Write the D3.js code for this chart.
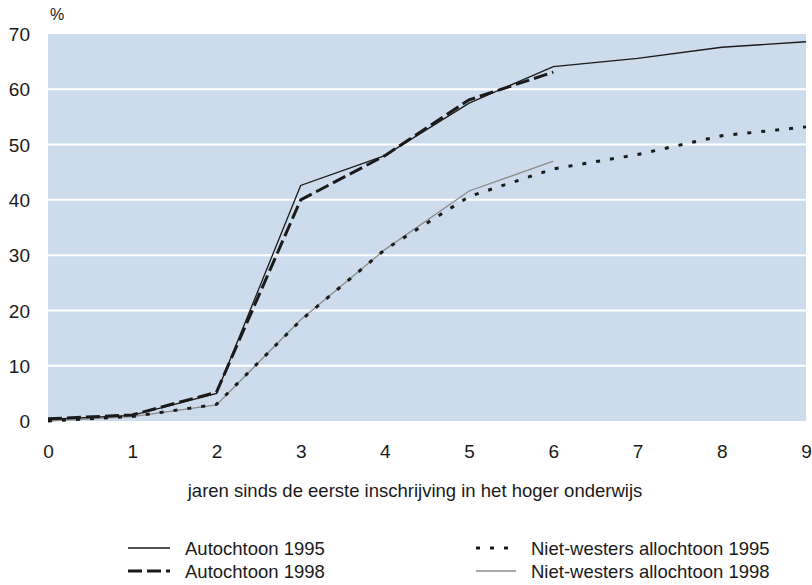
<!DOCTYPE html>
<html>
<head>
<meta charset="utf-8">
<script src="https://cdn.jsdelivr.net/npm/d3@7"></script>
<style>
  body { margin: 0; background: #fff; }
  text { font-family: "Liberation Sans", Arial, sans-serif; fill: #1a1a1a; }
  .tick text { font-family: "Liberation Sans Narrow", "Liberation Sans", sans-serif; }
</style>
</head>
<body>
<div id="main"></div>
<script>
// jaren sinds de eerste inschrijving
const years = [0, 1, 2, 3, 4, 5, 6, 7, 8, 9];
const yTicks = [0, 10, 20, 30, 40, 50, 60, 70];

const autochtoon1995 = [0.3, 1.0, 5.0, 42.6, 48.0, 57.5, 64.1, 65.6, 67.6, 68.6];
const autochtoon1998 = [0.4, 1.1, 5.2, 40.0, 48.0, 58.1, 63.1];
const nietWesters1995 = [0.0, 0.8, 3.0, 18.2, 31.0, 40.6, 45.6, 48.2, 51.6, 53.2];
const nietWesters1998 = [0.0, 0.8, 2.9, 18.3, 31.0, 41.6, 47.0];

const seriesNames = ["Autochtoon 1995", "Autochtoon 1998", "Niet-westers allochtoon 1995", "Niet-westers allochtoon 1998"];

const ctx = { w: 812, h: 585 };
const margin = { top: 34, right: 6, bottom: 164, left: 48 };
const width = ctx.w - margin.left - margin.right,
      height = ctx.h - margin.top - margin.bottom;

// lijnstijlen per reeks
const styles = [
  { stroke: "#1a1a1a", width: 1.3, dash: null },
  { stroke: "#1a1a1a", width: 3, dash: "14,5" },
  { stroke: "#1a1a1a", width: 3, dash: "4,10" },
  { stroke: "#8c8c8c", width: 1.3, dash: null }
];

const series = [autochtoon1995, autochtoon1998, nietWesters1995, nietWesters1998];

const svgEl = d3.select("#main").append("svg")
  .attr("width", ctx.w)
  .attr("height", ctx.h);

const x = d3.scaleLinear().domain([0, 9]).range([0, width]);
const y = d3.scaleLinear().domain([0, 70]).range([height, 0]);

const g = svgEl.append("g").attr("transform", `translate(${margin.left},${margin.top})`);

g.append("rect")
  .attr("width", width)
  .attr("height", height)
  .attr("fill", "#ccdcec");

g.selectAll(".grid")
  .data(yTicks.filter(d => d > 0 && d < 70))
  .enter().append("line")
  .attr("class", "grid")
  .attr("x1", 0).attr("x2", width)
  .attr("y1", d => y(d)).attr("y2", d => y(d))
  .attr("stroke", "#fff")
  .attr("stroke-width", 2);

// assen zonder lijnen
const yAxis = g.append("g")
  .call(d3.axisLeft(y).tickValues(yTicks).tickSize(0).tickPadding(18));
yAxis.select(".domain").remove();
yAxis.selectAll("text").style("font-size", "19px").attr("fill", "#1a1a1a").attr("dy", "0.35em");

const xAxis = g.append("g")
  .attr("transform", `translate(0,${height})`)
  .call(d3.axisBottom(x).tickValues(years).tickSize(0).tickPadding(24));
xAxis.select(".domain").remove();
xAxis.selectAll("text").style("font-size", "19px").attr("fill", "#1a1a1a");

const line = d3.line()
  .x((d, i) => x(years[i]))
  .y(d => y(d));

// volgorde van tekenen: grijze lijn onder de stippellijn
[3, 2, 0, 1].forEach(i => {
  g.append("path")
    .datum(series[i])
    .attr("d", line)
    .attr("fill", "none")
    .attr("stroke", styles[i].stroke)
    .attr("stroke-width", styles[i].width)
    .attr("stroke-dasharray", styles[i].dash);
});

svgEl.append("text")
  .attr("x", 50)
  .attr("y", 20)
  .style("font-size", "16px")
  .text("%");

svgEl.append("text")
  .attr("x", 415)
  .attr("y", 497)
  .attr("text-anchor", "middle")
  .style("font-size", "18.5px")
  .text("jaren sinds de eerste inschrijving in het hoger onderwijs");

// legenda
const legendPos = [[128, 548], [128, 571], [476, 548], [476, 571]];
seriesNames.forEach((name, i) => {
  const row = svgEl.append("g").attr("transform", `translate(${legendPos[i][0]},${legendPos[i][1]})`);
  row.append("line")
    .attr("x1", 0).attr("x2", i < 2 ? 42 : 40)
    .attr("stroke", styles[i].stroke)
    .attr("stroke-width", styles[i].width)
    .attr("stroke-dasharray", styles[i].dash);
  row.append("text")
    .attr("x", i < 2 ? 57 : 55)
    .attr("y", 7)
    .style("font-size", "18.5px")
    .text(name);
});
</script>
</body>
</html>
